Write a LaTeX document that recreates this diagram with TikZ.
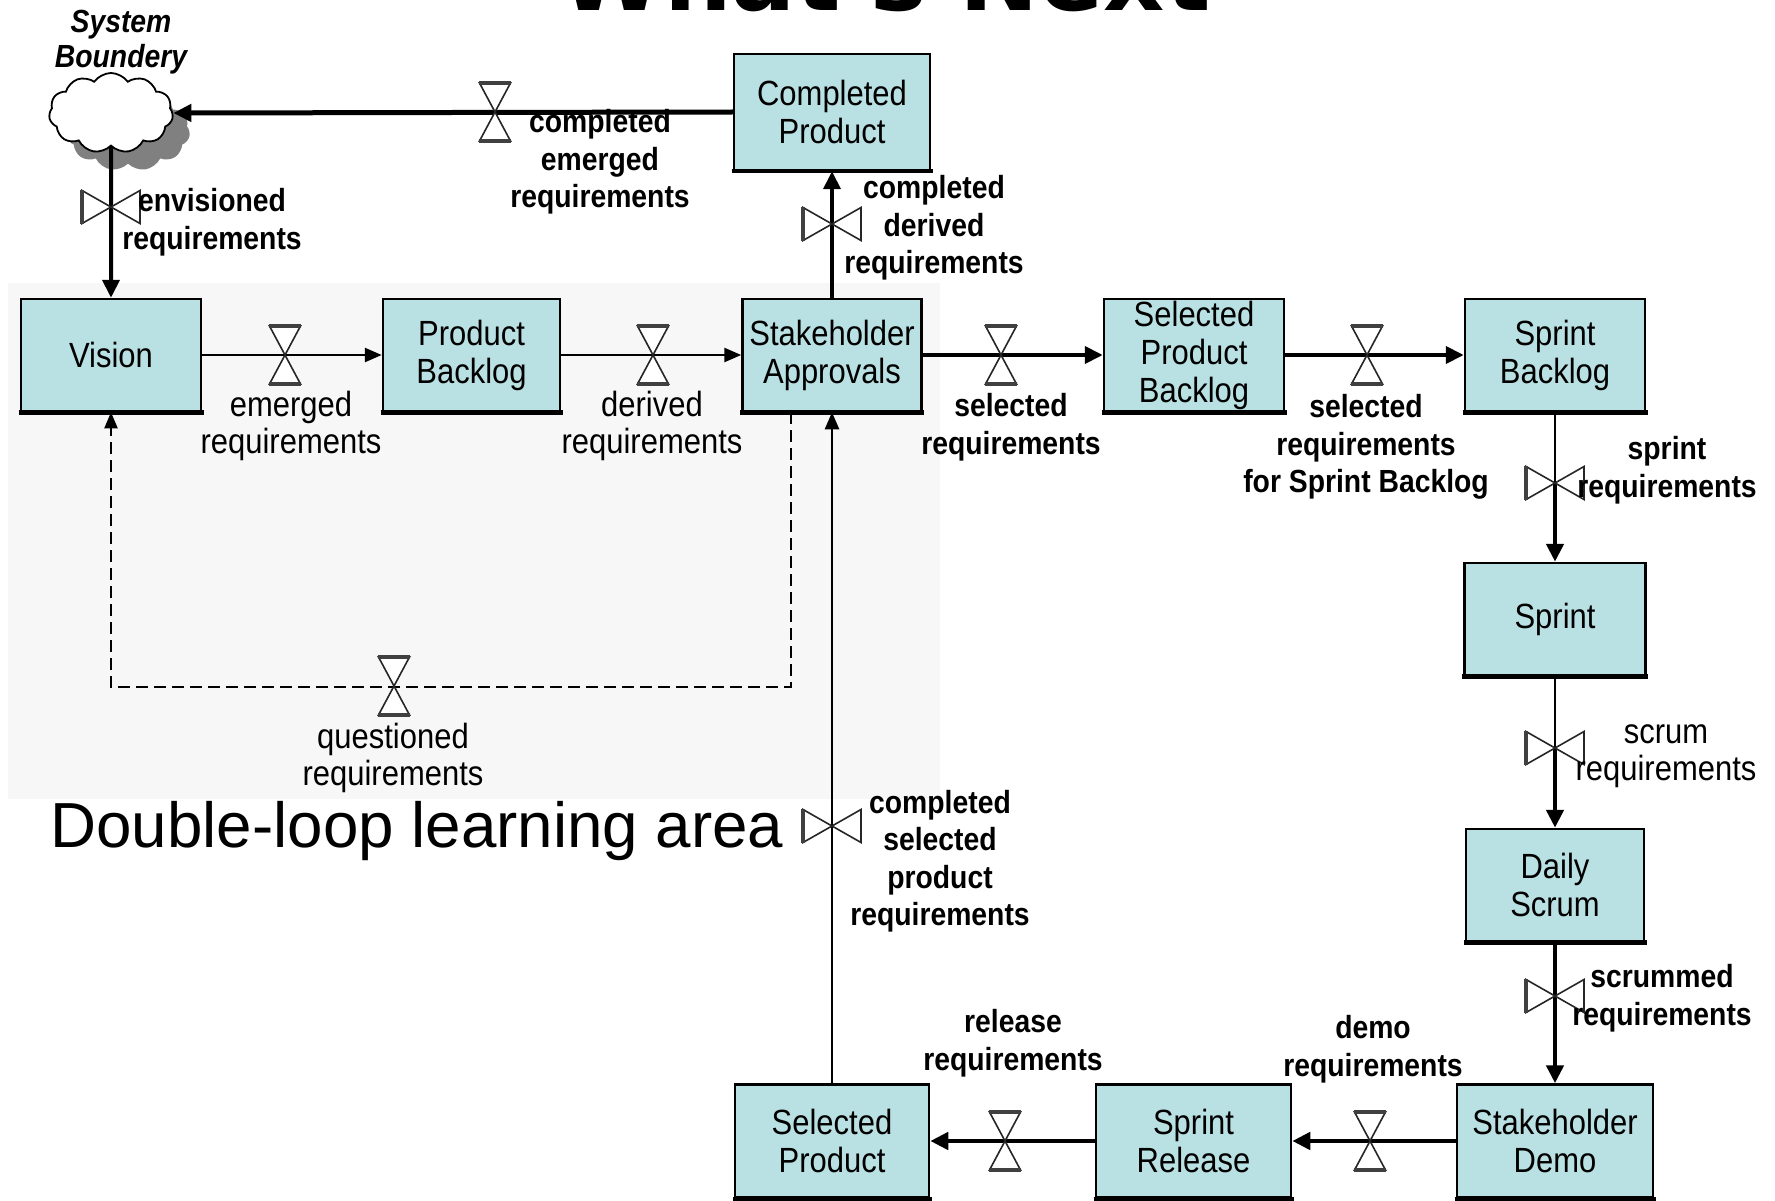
\documentclass[tikz,border=0pt]{standalone}
\usepackage{fontspec}
\setmainfont{Liberation Sans}
\newfontfamily\boxfont[FakeStretch=0.885]{Liberation Sans}
\newfontfamily\titlefont{DejaVu Sans}
\usetikzlibrary{shapes.symbols,arrows.meta,calc}
\definecolor{stockfill}{RGB}{185,224,226}
\definecolor{loopbg}{RGB}{247,247,247}

\begin{document}
\begin{tikzpicture}[x=1pt,y=-1pt,
  stock/.style={draw=black,line width=2.5pt,fill=stockfill,minimum height=112pt,
    inner sep=0pt,align=center,font=\boxfont\fontsize{35}{38}\selectfont},
  stockbase/.style={line width=4.5pt,line cap=butt},
  thinline/.style={line width=2.5pt},
  thickline/.style={line width=4.5pt},
  thinflow/.style={thinline,-{Triangle[length=17pt,width=14pt]}},
  thickflow/.style={thickline,-{Triangle[length=18pt,width=17pt]}},
  loopflow/.style={line width=2pt,dash pattern=on 12pt off 6pt,-{Triangle[length=16pt,width=13pt]}},
  plainlabel/.style={align=center,inner sep=0pt,font=\boxfont\fontsize{35}{37.5}\selectfont},
  boldlabel/.style={align=center,inner sep=0pt,font=\boxfont\bfseries\fontsize{32}{37.5}\selectfont},
  puff/.style={cloud,cloud puffs=11,cloud puff arc=110,aspect=1.6,
    minimum width=124pt,minimum height=80pt,inner sep=0pt},
  hvalve/.pic={
    \filldraw[fill=white,draw=black!85,line width=1.6pt,line join=miter]
      (-15.5,-29) -- (15.5,-29) -- (-15.5,29) -- (15.5,29) -- cycle;
    \draw[black!75,line width=3.5pt] (-16,-29) -- (16,-29) (-16,29) -- (16,29);
  },
  vvalve/.pic={
    \filldraw[fill=white,draw=black!85,line width=1.6pt,line join=miter]
      (-29,-16.5) -- (-29,16.5) -- (29,-16.5) -- (29,16.5) -- cycle;
    \draw[black!75,line width=3.5pt] (-29,-17) -- (-29,17);
  }
]
% page and the shaded double-loop area
\useasboundingbox (0,0) rectangle (1775,1201);
\fill[white] (0,0) rectangle (1775,1201);
\clip (0,0) rectangle (1775,1201);
\fill[loopbg] (8,283) rectangle (940,799);

% title, running off the top edge
\node[anchor=base,inner sep=0pt,font=\titlefont\bfseries\fontsize{95}{100}\selectfont] (title) at (885,11) {What's Next};

% system boundary cloud with its shadow
\node[puff,fill=black!50,draw=none] (cloudshade) at (128,131) {};
\node[puff,fill=white,draw=black,line width=1.8pt] (cloud) at (111,113) {};
\node[align=center,inner sep=0pt,font=\boxfont\bfseries\itshape\fontsize{32}{35}\selectfont] (sysb) at (121,42) {System\\Boundery};

% stocks
\node[stock,minimum width=196pt,minimum height=116pt] (cp) at (832,112) {Completed\\Product};
\node[stock,minimum width=180pt] (vision) at (111,355) {Vision};
\node[stock,minimum width=177pt] (pb) at (471.5,355) {Product\\Backlog};
\node[stock,minimum width=179pt] (sa) at (832,355) {Stakeholder\\Approvals};
\node[stock,minimum width=180pt] (spb) at (1194,355) {Selected\\Product\\Backlog};
\node[stock,minimum width=180pt] (sb) at (1555,355) {Sprint\\Backlog};
\node[stock,minimum width=181pt] (sprint) at (1555,619) {Sprint};
\node[stock,minimum width=178pt] (ds) at (1555,885) {Daily\\Scrum};
\node[stock,minimum width=196pt,minimum height=113pt] (sd) at (1555,1141) {Stakeholder\\Demo};
\node[stock,minimum width=195pt,minimum height=113pt] (sr) at (1193.5,1141) {Sprint\\Release};
\node[stock,minimum width=194pt,minimum height=113pt] (sp) at (832,1141) {Selected\\Product};
\foreach \n in {cp,vision,pb,sa,spb,sb,sprint,ds,sd,sr,sp}
  \draw[stockbase] ([xshift=-1.25pt]\n.south west) -- ([xshift=1.25pt]\n.south east);

% valve positions
\coordinate (v1) at (495,112);
\coordinate (v2) at (111,207);
\coordinate (v3) at (285,355);
\coordinate (v4) at (653,355);
\coordinate (v5) at (1001,355);
\coordinate (v6) at (1367,355);
\coordinate (v7) at (1555,483);
\coordinate (v8) at (1555,748);
\coordinate (v9) at (1555,996);
\coordinate (v10) at (1370,1141);
\coordinate (v11) at (1005,1141);
\coordinate (v12) at (832,826);
\coordinate (v13) at (832,224);
\coordinate (v14) at (394,686);

% flows
\draw[thickflow,line width=5pt] (cp.west) -- (cloud.east);
\draw[thickflow,line width=4pt] (cloud.south) -- (vision.north);
\draw[thinflow] (vision.east) -- (pb.west);
\draw[thinflow] (pb.east) -- (sa.west);
\draw[thickflow,line width=4pt] (sa.east) -- (spb.west);
\draw[thickflow,line width=4pt] (spb.east) -- (sb.west);
\draw[thinline] (sb.south) -- (v7);
\draw[thickflow] (v7) -- (sprint.north);
\draw[thinline] (sprint.south) -- (v8);
\draw[thickflow] (v8) -- (ds.north);
\draw[thickflow] (ds.south) -- (sd.north);
\draw[thickflow] (sd.west) -- (sr.east);
\draw[thickflow] (sr.west) -- (sp.east);
\draw[thinflow] (sp.north) -- (sa.south);
\draw[thickflow,line width=4pt] (sa.north) -- (cp.south);
\draw[loopflow] ([xshift=-41pt]sa.south) -- ++(0,275) -| (vision.south);

% valves
\foreach \v in {v1,v3,v4,v5,v6,v10,v11,v14} \path (\v) pic {hvalve};
\foreach \v in {v2,v7,v8,v9,v12,v13} \path (\v) pic {vvalve};

% flow labels
\node[boldlabel] (l1) at (600,162) {completed\\emerged\\requirements};
\node[boldlabel] (l2) at (212,222) {envisioned\\requirements};
\node[plainlabel] (l3) at (291,426) {emerged\\requirements};
\node[plainlabel] (l4) at (652,426) {derived\\requirements};
\node[boldlabel] (l5) at (1011,427) {selected\\requirements};
\node[boldlabel] (l6) at (1366,447) {selected\\requirements\\for Sprint Backlog};
\node[boldlabel] (l7) at (1667,470) {sprint\\requirements};
\node[plainlabel] (l8) at (1666,756) {scrum\\requirements};
\node[boldlabel] (l9) at (1662,998) {scrummed\\requirements};
\node[boldlabel] (l10) at (1373,1049) {demo\\requirements};
\node[boldlabel] (l11) at (1013,1043) {release\\requirements};
\node[boldlabel] (l12) at (940,861) {completed\\selected\\product\\requirements};
\node[boldlabel] (l13) at (934,228) {completed\\derived\\requirements};
\node[plainlabel] (l14) at (393,758) {questioned\\requirements};

% area caption
\node[anchor=base,inner sep=0pt,font=\fontsize{63.7}{70}\selectfont] (dlarea) at (417,847) {Double-loop learning area};
\end{tikzpicture}
\end{document}
